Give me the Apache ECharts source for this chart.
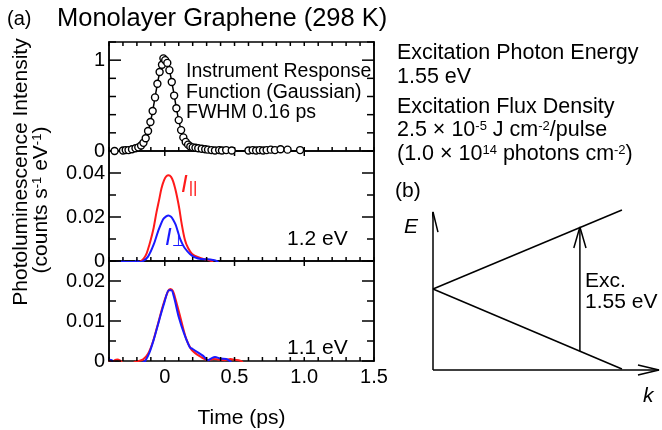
<!DOCTYPE html>
<html><head><meta charset="utf-8">
<script src="https://cdn.jsdelivr.net/npm/echarts@6/dist/echarts.min.js"></script>
<style>html,body{margin:0;padding:0;background:#fff}#c{width:662px;height:430px}</style>
</head><body><div id="c"></div>
<script>
const FONT = "'Liberation Sans', Arial, Helvetica, sans-serif";

// ---- Panel (a) top: instrument response function (circles = data, line = Gaussian fit)
const irfTime  = [-0.36,-0.30,-0.28,-0.26,-0.235,-0.21,-0.19,-0.17,-0.153,-0.137,-0.12,-0.103,-0.087,-0.07,-0.053,-0.037,-0.02,-0.01,0.003,0.018,0.033,0.05,0.067,0.083,0.10,0.117,0.133,0.15,0.167,0.183,0.20,0.22,0.24,0.265,0.29,0.31,0.335,0.36,0.39,0.41,0.44,0.48,0.60,0.63,0.655,0.68,0.705,0.73,0.76,0.79,0.83,0.88,0.97];
const irfValue = [0.0,0.005,0.01,0.01,0.02,0.03,0.04,0.06,0.09,0.14,0.22,0.32,0.44,0.59,0.74,0.87,0.95,1.02,1.0,0.97,0.89,0.76,0.61,0.47,0.34,0.23,0.15,0.10,0.07,0.05,0.04,0.035,0.03,0.025,0.02,0.015,0.01,0.005,0.01,0.005,0.01,0.005,0.005,0.01,0.005,0.01,0.005,0.01,0.015,0.01,0.02,0.015,0.01];
const fitTime  = [-0.36,-0.26,-0.22,-0.20,-0.18,-0.16,-0.14,-0.12,-0.10,-0.08,-0.06,-0.04,-0.02,0.00,0.02,0.04,0.06,0.08,0.10,0.12,0.14,0.16,0.18,0.20,0.22,0.26,0.97];
const fitValue = [0,0.001,0.005,0.013,0.030,0.063,0.120,0.211,0.339,0.500,0.678,0.841,0.958,1.0,0.958,0.841,0.678,0.500,0.339,0.211,0.120,0.063,0.030,0.013,0.005,0.001,0];

// ---- Panel (a) middle: 1.2 eV
const m12ParTime  = [-0.40,-0.20,-0.17,-0.15,-0.13,-0.11,-0.095,-0.08,-0.06,-0.04,-0.024,-0.005,0.012,0.028,0.045,0.06,0.075,0.09,0.105,0.12,0.144,0.168,0.196,0.24,0.287,0.33,0.35];
const m12ParValue = [-0.002,-0.001,0,0.0012,0.0035,0.0075,0.011,0.015,0.022,0.028,0.033,0.0368,0.0386,0.039,0.0382,0.0362,0.0328,0.0285,0.0235,0.0173,0.0097,0.0058,0.0032,0.0017,0.0008,0.0001,-0.001];
const m12PerTime  = [-0.40,-0.31,-0.30,-0.29,-0.22,-0.20,-0.185,-0.155,-0.12,-0.08,-0.048,-0.012,0.01,0.026,0.045,0.06,0.077,0.092,0.108,0.126,0.144,0.18,0.215,0.26,0.31,0.345,0.37,0.39];
const m12PerValue = [-0.001,-0.0005,0.0002,-0.0005,-0.0005,0.0002,-0.0005,0,0.002,0.0074,0.0135,0.019,0.0203,0.0207,0.0201,0.0188,0.0166,0.0137,0.0104,0.0078,0.0058,0.0032,0.0017,0.0009,0.0008,0.0005,0.0001,-0.001];

// ---- Panel (a) bottom: 1.1 eV
const m11ParTime  = [-0.40,-0.38,-0.355,-0.34,-0.32,-0.30,-0.25,-0.21,-0.19,-0.155,-0.12,-0.085,-0.048,-0.012,0.024,0.04,0.058,0.082,0.117,0.153,0.19,0.22,0.26,0.29,0.31,0.35,0.38,0.43,0.47,0.50,0.54,0.56];
const m11ParValue = [0.0002,-0.0003,0.0003,0.0004,0.0001,-0.0005,-0.0008,-0.0002,0,0.0004,0.0018,0.0048,0.0094,0.014,0.0175,0.018,0.0175,0.0148,0.0102,0.0056,0.0029,0.0019,0.001,0.0004,0.0002,0.0005,0.0004,0.0002,0.0005,0.0003,0.0001,-0.0003];
const m11PerTime  = [-0.40,-0.38,-0.37,-0.30,-0.20,-0.15,-0.14,-0.11,-0.077,-0.04,-0.005,0.03,0.047,0.066,0.10,0.14,0.18,0.20,0.24,0.27,0.30,0.31,0.34,0.36,0.40,0.44,0.46,0.48];
const m11PerValue = [0.0003,0.0002,-0.0005,-0.001,-0.001,-0.0002,0,0.0021,0.0056,0.0102,0.0144,0.0177,0.0177,0.016,0.011,0.0067,0.0034,0.003,0.0021,0.0014,0.0004,0.0002,0.0008,0.001,0.0006,0.0005,0.0002,-0.0005];

// ---- axis tick labels and tick positions
const timeLabels = [0, 0.5, 1.0, 1.5];
const topYLabels = [0, 1];
const midYLabels = [0, 0.02, 0.04];
const botYLabels = [0, 0.01, 0.02];
const timeTicks  = [-0.4,-0.3,-0.2,-0.1,0,0.1,0.2,0.3,0.4,0.5,0.6,0.7,0.8,0.9,1.0,1.1,1.2,1.3,1.4,1.5];
const timeTopMajor = [0, 0.5, 1.0];
const topYMinor = [0.2, 0.4, 0.6, 0.8, 1.2];
const midYMinor = [0.01, 0.03, 0.05];
const botYMinor = [0.005, 0.015, 0.025];

// ---- Panel (b): schematic band diagram (arbitrary units, k: 0..100, E: 0..100)
const eAxisPts   = [[0,0],[0,100]];
const kAxisPts   = [[0,0],[100,0]];
const eHeadPts   = [[-2.2,87.3],[0,100],[2.2,87.3]];
const kHeadPts   = [[90.7,3.2],[100,0],[90.7,-3.2]];
const upperBand  = [[0,51.3],[83.6,101.3]];
const lowerBand  = [[0,51.3],[83.6,0.6]];
const excPts     = [[65,12],[65,90.5]];
const excHeadPts = [[62.3,77.2],[65,90.5],[67.7,77.2]];

const zip = (a, b) => a.map((v, i) => [v, b[i]]);
const AX = () => ({color:'#000', width:1.5});
const labelStyle = () => ({color:'#000', fontSize:20, fontFamily:FONT});
const SUP = () => ({fontSize:13, fontFamily:FONT, color:'#000', verticalAlign:'bottom', padding:[0,0,8,0]});
const T_MIN = -0.4, T_MAX = 1.5;

function xAxes(gi, showLabels) {
  const bottom = {type:'value', gridIndex:gi, position:'bottom', min:T_MIN, max:T_MAX, interval:0.1,
    axisLine:{show:true, lineStyle:AX(), onZero:false}, axisTick:{show:false},
    axisLabel:showLabels ? Object.assign({show:true, margin:6, customValues:timeLabels.slice(),
      formatter:v => (Math.abs(v) < 1e-9 ? '0' : v.toFixed(1))}, labelStyle()) : {show:false},
    splitLine:{show:false}};
  if (showLabels) {
    bottom.name = 'Time (ps)'; bottom.nameLocation = 'middle'; bottom.nameGap = 47;
    bottom.nameTextStyle = {color:'#000', fontSize:21, fontFamily:FONT};
  }
  const top = {type:'value', gridIndex:gi, position:'top', min:T_MIN, max:T_MAX, interval:0.1,
    axisLine:{show:true, lineStyle:AX(), onZero:false}, axisTick:{show:false},
    axisLabel:{show:false}, splitLine:{show:false}};
  return [bottom, top];
}
function yAxes(gi, max, majors, fmt, names) {
  const base = () => ({type:'value', gridIndex:gi, min:0, max:max, splitLine:{show:false},
    axisLine:{show:true, lineStyle:AX(), onZero:false}, axisTick:{show:false}});
  const major = Object.assign(base(), {position:'left',
    axisLabel:Object.assign({show:true, margin:4, customValues:majors.slice(), formatter:fmt}, labelStyle())});
  const second = Object.assign(base(), {position:'left', axisLabel:{show:false}});
  if (names) {
    Object.assign(major, {name:'Photoluminescence Intensity', nameLocation:'middle', nameRotate:90, nameGap:77,
      nameTextStyle:{color:'#000', fontSize:21, fontFamily:FONT, padding:[0,0,0,68]}});
    Object.assign(second, {name:'(counts s{sup|-1} eV{sup|-1})', nameLocation:'middle', nameRotate:90, nameGap:57,
      nameTextStyle:{color:'#000', fontSize:21, fontFamily:FONT, padding:[0,0,0,12], rich:{sup:SUP()}}});
  }
  return [major, second,
    Object.assign(base(), {position:'right', axisLabel:{show:false}}),
    Object.assign(base(), {position:'right', axisLabel:{show:false}})];
}
const fmt2 = v => (Math.abs(v) < 1e-12 ? '0' : v.toFixed(2));
const fmt0 = v => (Math.abs(v) < 1e-12 ? '0' : v.toFixed(0));

const xAxis = [].concat(xAxes(0, false), xAxes(1, false), xAxes(2, true));
const yAxis = [].concat(yAxes(0, 1.2, topYLabels, fmt0, false),
                        yAxes(1, 0.05, midYLabels, fmt2, true),
                        yAxes(2, 0.025, botYLabels, fmt2, false));
const grid = [{left:109, top:42, width:265, height:109}, {left:109, top:151, width:265, height:110},
              {left:109, top:261, width:265, height:110}];

const RED = '#ff1a1a', BLUE = '#1a1aff';
function curve(xi, yi, data, color, w, smooth) {
  return {type:'line', xAxisIndex:xi, yAxisIndex:yi, data:data, showSymbol:false, symbol:'none',
    smooth:smooth, lineStyle:{color:color, width:w}, silent:true, clip:true};
}
const series = [
  curve(0, 0, zip(fitTime, fitValue), '#000', 1.5, 0.4),
  {type:'scatter', xAxisIndex:0, yAxisIndex:0, data:zip(irfTime, irfValue), symbol:'circle', symbolSize:7,
   itemStyle:{color:'#fff', borderColor:'#000', borderWidth:1.4, opacity:1}, z:5, silent:true},
  curve(2, 4, zip(m12ParTime, m12ParValue), RED, 2, 0.3),
  curve(2, 4, zip(m12PerTime, m12PerValue), BLUE, 2, 0.3),
  curve(4, 8, zip(m11ParTime, m11ParValue), RED, 2, 0.3),
  curve(4, 8, zip(m11PerTime, m11PerValue), BLUE, 2, 0.3)
];

// inward tick marks, placed through each panel's own axes (code: 0 bottom, 1 top, 2 left, 3 right)
function tickSeries(gi, yMax, yMinor, yMajor, topTicks, topLen) {
  const d = [];
  timeTicks.forEach(v => d.push([v, 0, 4]));
  topTicks.forEach(v => d.push([v, 1, topLen]));
  yMinor.forEach(v => { d.push([v, 2, 7]); d.push([v, 3, 7]); });
  yMajor.forEach(v => { d.push([v, 2, 12]); d.push([v, 3, 12]); });
  return {type:'custom', xAxisIndex:gi * 2, yAxisIndex:gi * 4, data:d, silent:true, z:4,
    renderItem:(params, api) => {
      const v = api.value(0), code = api.value(1), len = api.value(2);
      let a, b;
      if (code === 0)      { a = api.coord([v, 0]);     b = [a[0], a[1] - len]; }
      else if (code === 1) { a = api.coord([v, yMax]);  b = [a[0], a[1] + len]; }
      else if (code === 2) { a = api.coord([T_MIN, v]); b = [a[0] + len, a[1]]; }
      else                 { a = api.coord([T_MAX, v]); b = [a[0] - len, a[1]]; }
      return {type:'line', shape:{x1:a[0], y1:a[1], x2:b[0], y2:b[1]},
              style:{stroke:'#000', lineWidth:1.5}};
    }};
}
series.push(tickSeries(0, 1.2, topYMinor, topYLabels, timeTicks, 4));
series.push(tickSeries(1, 0.05, midYMinor, midYLabels, timeTopMajor, 5));
series.push(tickSeries(2, 0.025, botYMinor, botYLabels, timeTopMajor, 5));

// schematic grid (panel b)
grid.push({left:433, top:212, width:226, height:158});
xAxis.push({type:'value', gridIndex:3, min:0, max:100, show:false});
yAxis.push({type:'value', gridIndex:3, min:0, max:100, show:false});
[eAxisPts, kAxisPts, eHeadPts, kHeadPts, upperBand, lowerBand, excPts, excHeadPts].forEach(pts => {
  series.push({type:'line', xAxisIndex:6, yAxisIndex:12, data:pts, symbol:'none', clip:false,
    lineStyle:{color:'#000', width:1.5}, silent:true});
});

// texts as title components
function TT(x, yc, text, size, ts) {
  return {text:text, left:x, top:Math.round(yc - size / 2), padding:0, itemGap:0,
    textStyle:Object.assign({color:'#000', fontSize:size, fontFamily:FONT, fontWeight:'normal', lineHeight:size}, ts || {})};
}
const title = [
  TT(7, 19, '(a)', 20),
  TT(57, 19, 'Monolayer Graphene (298 K)', 25.5),
  TT(186, 72, 'Instrument Response', 19.5),
  TT(186, 93, 'Function (Gaussian)', 19.5),
  TT(186, 113, 'FWHM 0.16 ps', 19.5),
  TT(287, 239, '1.2 eV', 21),
  TT(287, 348, '1.1 eV', 21),
  TT(181, 185, '{i|I}{s|||}', 24, {lineHeight:24, rich:{
     i:{fontSize:24, fontStyle:'italic', color:RED, fontFamily:FONT},
     s:{fontSize:17, color:RED, fontFamily:FONT, verticalAlign:'bottom', padding:[0,0,0,1]}}}),
  TT(165, 238, '{i|I}{s|⊥}', 24, {lineHeight:24, rich:{
     i:{fontSize:24, fontStyle:'italic', color:BLUE, fontFamily:FONT},
     s:{fontSize:15, color:BLUE, fontFamily:'DejaVu Sans', verticalAlign:'bottom'}}}),
  TT(397, 53, 'Excitation Photon Energy', 21.5),
  TT(397, 77, '1.55 eV', 21.5),
  TT(397, 107, 'Excitation Flux Density', 21.5),
  TT(397, 130, '2.5 × 10{sup|-5} J cm{sup|-2}/pulse', 21.5, {rich:{sup:SUP()}}),
  TT(397, 154, '(1.0 × 10{sup|14} photons cm{sup|-2})', 21.5, {rich:{sup:SUP()}}),
  TT(395, 191, '(b)', 21),
  TT(404, 227, 'E', 21, {fontStyle:'italic'}),
  TT(643, 396, 'k', 21, {fontStyle:'italic'}),
  TT(585, 281, 'Exc.', 21),
  TT(585, 302, '1.55 eV', 21)
];

const chart = echarts.init(document.getElementById('c'));
chart.setOption({animation:false, title:title, grid:grid, xAxis:xAxis, yAxis:yAxis, series:series});
</script></body></html>
